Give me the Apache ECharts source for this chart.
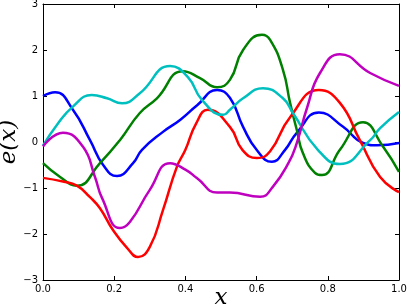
<!DOCTYPE html>
<html><head><meta charset="utf-8">
<script src="https://cdn.jsdelivr.net/npm/echarts@6/dist/echarts.min.js"></script>
<style>html,body{margin:0;padding:0;background:#fff}#c{width:407px;height:305px}</style>
</head><body><div id="c"></div>
<script>
var blueX  = [0, 0.034, 0.084, 0.132, 0.169, 0.208, 0.253, 0.278, 0.337, 0.385, 0.433, 0.489, 0.525, 0.562, 0.60, 0.643, 0.68, 0.713, 0.775, 0.843, 0.899, 0.938, 1.0];
var blueY  = [1.0, 1.08, 0.7, 0.04, -0.5, -0.74, -0.46, -0.17, 0.22, 0.48, 0.80, 1.13, 0.96, 0.33, -0.17, -0.43, -0.17, 0.2, 0.64, 0.33, -0.02, -0.07, -0.02];
var greenX = [0, 0.048, 0.095, 0.16, 0.216, 0.272, 0.32, 0.393, 0.441, 0.489, 0.525, 0.562, 0.615, 0.638, 0.674, 0.694, 0.713, 0.73, 0.764, 0.784, 0.834, 0.899, 0.955, 1.0];
var greenY = [-0.46, -0.76, -0.95, -0.46, 0.04, 0.63, 0.95, 1.54, 1.39, 1.19, 1.35, 2.0, 2.33, 2.22, 1.57, 0.85, 0.26, -0.24, -0.67, -0.72, -0.17, 0.43, -0.1, -0.65];
var redX   = [0, 0.056, 0.095, 0.132, 0.16, 0.197, 0.236, 0.267, 0.30, 0.337, 0.376, 0.40, 0.43, 0.463, 0.525, 0.56, 0.601, 0.638, 0.694, 0.775, 0.834, 0.89, 0.947, 1.0];
var redY   = [-0.78, -0.86, -0.95, -1.2, -1.44, -1.92, -2.3, -2.5, -2.28, -1.48, -0.54, -0.17, 0.4, 0.70, 0.33, -0.17, -0.35, -0.2, 0.54, 1.13, 0.85, 0.04, -0.76, -1.09];
var cyanX  = [0, 0.039, 0.084, 0.137, 0.18, 0.222, 0.272, 0.357, 0.407, 0.447, 0.506, 0.525, 0.562, 0.618, 0.674, 0.702, 0.772, 0.834, 0.919, 0.947, 1.0];
var cyanY  = [-0.08, 0.37, 0.77, 1.02, 0.95, 0.84, 1.06, 1.65, 1.41, 0.91, 0.59, 0.70, 0.95, 1.17, 0.95, 0.63, -0.17, -0.48, 0.04, 0.3, 0.65];
var magX   = [0, 0.056, 0.112, 0.146, 0.166, 0.216, 0.244, 0.30, 0.357, 0.40, 0.433, 0.489, 0.525, 0.61, 0.646, 0.69, 0.713, 0.742, 0.778, 0.834, 0.919, 1.0];
var magY   = [-0.1, 0.2, -0.1, -0.76, -1.22, -1.87, -1.74, -1.04, -0.46, -0.6, -0.79, -1.1, -1.1, -1.19, -0.97, -0.45, -0.02, 0.75, 1.5, 1.91, 1.5, 1.22];

function pairs(xs, ys){ return xs.map(function(x,i){return [x, ys[i]];}); }
var defs = [
  {x: blueX, y: blueY, c: '#0000ff'},
  {x: greenX, y: greenY, c: '#008000'},
  {x: redX, y: redY, c: '#ff0000'},
  {x: cyanX, y: cyanY, c: '#00bfbf'},
  {x: magX, y: magY, c: '#bf00bf'}
];
var chart = echarts.init(document.getElementById('c'), null, {renderer: 'canvas'});
var lbl = {color: '#000', fontSize: 10, fontFamily: 'DejaVu Sans'};
var line = {show: true, onZero: false, lineStyle: {color: '#000', width: 1}};
var tick = {show: true, inside: true, length: 4, lineStyle: {color: '#000', width: 1}};
var nameStyle = {fontSize: 23, fontStyle: 'italic', fontFamily: 'DejaVu Serif', color: '#000'};
chart.setOption({
  animation: false,
  grid: {left: 43, top: 4, right: 8, bottom: 25, containLabel: false, outerBoundsMode: 'none'},
  xAxis: [
    {type: 'value', min: 0, max: 1, interval: 0.2, position: 'bottom',
     axisLine: line, axisTick: tick, splitLine: {show: false},
     axisLabel: Object.assign({margin: 4, formatter: function(v){return v.toFixed(1);}}, lbl),
     name: 'x', nameLocation: 'middle', nameGap: 7, nameMoveOverlap: false,
     nameTextStyle: nameStyle},
    {type: 'value', min: 0, max: 1, interval: 0.2, position: 'top',
     axisLine: line, axisTick: tick, splitLine: {show: false}, axisLabel: {show: false}}
  ],
  yAxis: [
    {type: 'value', min: -3, max: 3, interval: 1, position: 'left',
     axisLine: line, axisTick: tick, splitLine: {show: false},
     axisLabel: Object.assign({margin: 5, formatter: function(v){return String(v).replace('-', '\u2212');}}, lbl),
     name: 'e(x)', nameLocation: 'middle', nameGap: 22, nameRotate: 90, nameMoveOverlap: false,
     nameTextStyle: nameStyle},
    {type: 'value', min: -3, max: 3, interval: 1, position: 'right',
     axisLine: line, axisTick: tick, splitLine: {show: false}, axisLabel: {show: false}}
  ],
  series: defs.map(function(d){
    return {type: 'line', data: pairs(d.x, d.y), smooth: 0.5, showSymbol: false,
            lineStyle: {color: d.c, width: 2.5}, itemStyle: {color: d.c}, clip: true};
  })
});
</script></body></html>
